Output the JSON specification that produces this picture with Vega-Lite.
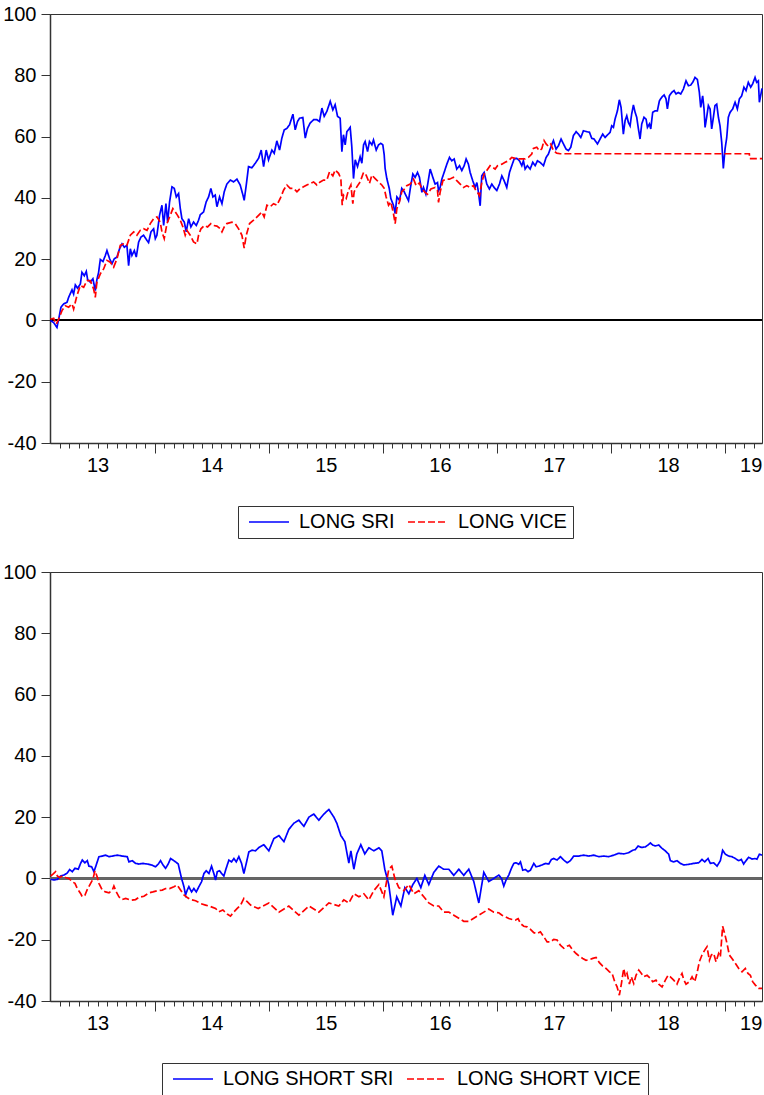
{
  "$schema": "https://vega.github.io/schema/vega-lite/v6.json",
  "padding": {"left": 2, "top": 3, "right": 0, "bottom": 0},
  "spacing": 22,
  "config": {
    "font": "Liberation Sans",
    "view": {"stroke": "#333", "strokeWidth": 1},
    "axis": {"grid": false, "title": null, "domainColor": "#333", "domainWidth": 1.5, "tickColor": "#333", "tickWidth": 1, "labelColor": "#000", "labelFontSize": 20, "labelFont": "Liberation Sans"},
    "legend": {"title": null, "orient": "none", "direction": "horizontal", "columns": 2, "symbolType": "M-4,0H4", "symbolSize": 100, "symbolOffset": 15, "symbolStrokeWidth": 1.5, "labelFontSize": 20, "labelFont": "Liberation Sans", "labelColor": "#000", "strokeColor": "#333", "padding": 6, "columnPadding": 8, "labelOffset": 20, "labelLimit": 400}
  },
  "datasets": {
    "top": [
      {"t":2013.086,"v":0.0,"s":"LONG SRI"},{"t":2013.115,"v":-0.7,"s":"LONG SRI"},{"t":2013.144,"v":-2.3,"s":"LONG SRI"},{"t":2013.159,"v":0.4,"s":"LONG SRI"},{"t":2013.179,"v":4.3,"s":"LONG SRI"},{"t":2013.203,"v":5.4,"s":"LONG SRI"},{"t":2013.232,"v":5.9,"s":"LONG SRI"},{"t":2013.246,"v":7.5,"s":"LONG SRI"},{"t":2013.276,"v":10.0,"s":"LONG SRI"},{"t":2013.290,"v":8.6,"s":"LONG SRI"},{"t":2013.305,"v":11.6,"s":"LONG SRI"},{"t":2013.325,"v":10.5,"s":"LONG SRI"},{"t":2013.349,"v":11.9,"s":"LONG SRI"},{"t":2013.363,"v":15.7,"s":"LONG SRI"},{"t":2013.384,"v":14.6,"s":"LONG SRI"},{"t":2013.401,"v":16.0,"s":"LONG SRI"},{"t":2013.413,"v":13.3,"s":"LONG SRI"},{"t":2013.436,"v":12.5,"s":"LONG SRI"},{"t":2013.459,"v":13.6,"s":"LONG SRI"},{"t":2013.480,"v":9.7,"s":"LONG SRI"},{"t":2013.494,"v":13.3,"s":"LONG SRI"},{"t":2013.509,"v":15.7,"s":"LONG SRI"},{"t":2013.524,"v":19.9,"s":"LONG SRI"},{"t":2013.547,"v":19.2,"s":"LONG SRI"},{"t":2013.568,"v":21.2,"s":"LONG SRI"},{"t":2013.582,"v":22.8,"s":"LONG SRI"},{"t":2013.606,"v":20.1,"s":"LONG SRI"},{"t":2013.626,"v":18.5,"s":"LONG SRI"},{"t":2013.646,"v":20.1,"s":"LONG SRI"},{"t":2013.670,"v":20.7,"s":"LONG SRI"},{"t":2013.693,"v":23.4,"s":"LONG SRI"},{"t":2013.714,"v":25.0,"s":"LONG SRI"},{"t":2013.734,"v":23.9,"s":"LONG SRI"},{"t":2013.757,"v":24.5,"s":"LONG SRI"},{"t":2013.772,"v":17.9,"s":"LONG SRI"},{"t":2013.787,"v":23.4,"s":"LONG SRI"},{"t":2013.801,"v":21.2,"s":"LONG SRI"},{"t":2013.822,"v":22.8,"s":"LONG SRI"},{"t":2013.839,"v":20.7,"s":"LONG SRI"},{"t":2013.860,"v":25.6,"s":"LONG SRI"},{"t":2013.880,"v":27.2,"s":"LONG SRI"},{"t":2013.903,"v":27.8,"s":"LONG SRI"},{"t":2013.933,"v":26.1,"s":"LONG SRI"},{"t":2013.947,"v":25.4,"s":"LONG SRI"},{"t":2013.968,"v":28.9,"s":"LONG SRI"},{"t":2013.991,"v":29.9,"s":"LONG SRI"},{"t":2014.006,"v":26.7,"s":"LONG SRI"},{"t":2014.020,"v":27.8,"s":"LONG SRI"},{"t":2014.043,"v":34.3,"s":"LONG SRI"},{"t":2014.064,"v":37.6,"s":"LONG SRI"},{"t":2014.079,"v":31.0,"s":"LONG SRI"},{"t":2014.099,"v":38.1,"s":"LONG SRI"},{"t":2014.114,"v":32.1,"s":"LONG SRI"},{"t":2014.131,"v":38.7,"s":"LONG SRI"},{"t":2014.152,"v":43.6,"s":"LONG SRI"},{"t":2014.172,"v":43.1,"s":"LONG SRI"},{"t":2014.190,"v":40.3,"s":"LONG SRI"},{"t":2014.210,"v":41.4,"s":"LONG SRI"},{"t":2014.225,"v":36.5,"s":"LONG SRI"},{"t":2014.239,"v":33.2,"s":"LONG SRI"},{"t":2014.260,"v":32.1,"s":"LONG SRI"},{"t":2014.277,"v":28.9,"s":"LONG SRI"},{"t":2014.298,"v":33.2,"s":"LONG SRI"},{"t":2014.318,"v":30.5,"s":"LONG SRI"},{"t":2014.341,"v":32.1,"s":"LONG SRI"},{"t":2014.365,"v":31.0,"s":"LONG SRI"},{"t":2014.385,"v":32.7,"s":"LONG SRI"},{"t":2014.400,"v":34.5,"s":"LONG SRI"},{"t":2014.429,"v":35.4,"s":"LONG SRI"},{"t":2014.452,"v":38.7,"s":"LONG SRI"},{"t":2014.473,"v":40.3,"s":"LONG SRI"},{"t":2014.493,"v":43.1,"s":"LONG SRI"},{"t":2014.511,"v":40.3,"s":"LONG SRI"},{"t":2014.531,"v":40.9,"s":"LONG SRI"},{"t":2014.546,"v":37.1,"s":"LONG SRI"},{"t":2014.569,"v":40.3,"s":"LONG SRI"},{"t":2014.590,"v":38.1,"s":"LONG SRI"},{"t":2014.610,"v":42.0,"s":"LONG SRI"},
      {"t":2014.633,"v":44.5,"s":"LONG SRI"},{"t":2014.663,"v":45.8,"s":"LONG SRI"},{"t":2014.692,"v":45.2,"s":"LONG SRI"},{"t":2014.721,"v":46.1,"s":"LONG SRI"},{"t":2014.750,"v":44.2,"s":"LONG SRI"},{"t":2014.774,"v":40.9,"s":"LONG SRI"},{"t":2014.785,"v":39.2,"s":"LONG SRI"},{"t":2014.803,"v":44.2,"s":"LONG SRI"},{"t":2014.823,"v":50.2,"s":"LONG SRI"},{"t":2014.852,"v":49.8,"s":"LONG SRI"},{"t":2014.882,"v":51.3,"s":"LONG SRI"},{"t":2014.911,"v":52.9,"s":"LONG SRI"},{"t":2014.934,"v":55.6,"s":"LONG SRI"},{"t":2014.955,"v":50.2,"s":"LONG SRI"},{"t":2014.978,"v":55.6,"s":"LONG SRI"},{"t":2014.998,"v":52.4,"s":"LONG SRI"},{"t":2015.028,"v":55.6,"s":"LONG SRI"},{"t":2015.048,"v":54.5,"s":"LONG SRI"},{"t":2015.071,"v":58.6,"s":"LONG SRI"},{"t":2015.095,"v":55.6,"s":"LONG SRI"},{"t":2015.115,"v":59.5,"s":"LONG SRI"},{"t":2015.136,"v":62.2,"s":"LONG SRI"},{"t":2015.159,"v":62.7,"s":"LONG SRI"},{"t":2015.182,"v":63.8,"s":"LONG SRI"},{"t":2015.212,"v":67.3,"s":"LONG SRI"},{"t":2015.232,"v":62.2,"s":"LONG SRI"},{"t":2015.252,"v":64.9,"s":"LONG SRI"},{"t":2015.270,"v":66.0,"s":"LONG SRI"},{"t":2015.299,"v":66.2,"s":"LONG SRI"},{"t":2015.320,"v":59.5,"s":"LONG SRI"},{"t":2015.340,"v":62.7,"s":"LONG SRI"},{"t":2015.363,"v":64.4,"s":"LONG SRI"},{"t":2015.393,"v":65.5,"s":"LONG SRI"},{"t":2015.422,"v":65.5,"s":"LONG SRI"},{"t":2015.445,"v":64.9,"s":"LONG SRI"},{"t":2015.466,"v":69.3,"s":"LONG SRI"},{"t":2015.486,"v":66.6,"s":"LONG SRI"},{"t":2015.509,"v":68.2,"s":"LONG SRI"},{"t":2015.539,"v":71.5,"s":"LONG SRI"},{"t":2015.562,"v":68.7,"s":"LONG SRI"},{"t":2015.582,"v":70.4,"s":"LONG SRI"},{"t":2015.603,"v":66.6,"s":"LONG SRI"},{"t":2015.626,"v":66.0,"s":"LONG SRI"},{"t":2015.641,"v":55.1,"s":"LONG SRI"},{"t":2015.655,"v":60.6,"s":"LONG SRI"},{"t":2015.670,"v":57.3,"s":"LONG SRI"},{"t":2015.685,"v":61.6,"s":"LONG SRI"},{"t":2015.714,"v":63.0,"s":"LONG SRI"},{"t":2015.728,"v":56.7,"s":"LONG SRI"},{"t":2015.743,"v":46.3,"s":"LONG SRI"},{"t":2015.758,"v":52.4,"s":"LONG SRI"},{"t":2015.778,"v":50.2,"s":"LONG SRI"},{"t":2015.801,"v":53.4,"s":"LONG SRI"},{"t":2015.816,"v":51.3,"s":"LONG SRI"},{"t":2015.831,"v":57.3,"s":"LONG SRI"},{"t":2015.845,"v":58.4,"s":"LONG SRI"},{"t":2015.866,"v":55.1,"s":"LONG SRI"},{"t":2015.883,"v":58.4,"s":"LONG SRI"},{"t":2015.904,"v":57.3,"s":"LONG SRI"},{"t":2015.918,"v":58.9,"s":"LONG SRI"},{"t":2015.942,"v":55.6,"s":"LONG SRI"},{"t":2015.962,"v":57.3,"s":"LONG SRI"},{"t":2015.982,"v":57.8,"s":"LONG SRI"},{"t":2016.000,"v":57.3,"s":"LONG SRI"},{"t":2016.012,"v":54.0,"s":"LONG SRI"},{"t":2016.020,"v":49.6,"s":"LONG SRI"},{"t":2016.035,"v":46.3,"s":"LONG SRI"},{"t":2016.056,"v":43.1,"s":"LONG SRI"},{"t":2016.070,"v":39.8,"s":"LONG SRI"},{"t":2016.093,"v":37.6,"s":"LONG SRI"},{"t":2016.108,"v":34.9,"s":"LONG SRI"},{"t":2016.123,"v":40.3,"s":"LONG SRI"},{"t":2016.146,"v":39.2,"s":"LONG SRI"},{"t":2016.166,"v":43.1,"s":"LONG SRI"},{"t":2016.187,"v":42.0,"s":"LONG SRI"},
      {"t":2016.210,"v":40.2,"s":"LONG SRI"},{"t":2016.225,"v":39.1,"s":"LONG SRI"},{"t":2016.240,"v":42.9,"s":"LONG SRI"},{"t":2016.263,"v":47.8,"s":"LONG SRI"},{"t":2016.283,"v":46.7,"s":"LONG SRI"},{"t":2016.304,"v":48.3,"s":"LONG SRI"},{"t":2016.321,"v":46.7,"s":"LONG SRI"},{"t":2016.342,"v":41.8,"s":"LONG SRI"},{"t":2016.356,"v":43.4,"s":"LONG SRI"},{"t":2016.377,"v":41.2,"s":"LONG SRI"},{"t":2016.391,"v":44.0,"s":"LONG SRI"},{"t":2016.415,"v":49.4,"s":"LONG SRI"},{"t":2016.438,"v":46.7,"s":"LONG SRI"},{"t":2016.458,"v":44.5,"s":"LONG SRI"},{"t":2016.479,"v":45.0,"s":"LONG SRI"},{"t":2016.488,"v":42.4,"s":"LONG SRI"},{"t":2016.502,"v":43.4,"s":"LONG SRI"},{"t":2016.517,"v":46.1,"s":"LONG SRI"},{"t":2016.537,"v":48.3,"s":"LONG SRI"},{"t":2016.561,"v":51.0,"s":"LONG SRI"},{"t":2016.584,"v":53.2,"s":"LONG SRI"},{"t":2016.604,"v":52.1,"s":"LONG SRI"},{"t":2016.625,"v":52.7,"s":"LONG SRI"},{"t":2016.648,"v":49.4,"s":"LONG SRI"},{"t":2016.672,"v":50.5,"s":"LONG SRI"},{"t":2016.692,"v":48.9,"s":"LONG SRI"},{"t":2016.713,"v":50.5,"s":"LONG SRI"},{"t":2016.730,"v":52.7,"s":"LONG SRI"},{"t":2016.750,"v":51.0,"s":"LONG SRI"},{"t":2016.765,"v":48.3,"s":"LONG SRI"},{"t":2016.788,"v":45.6,"s":"LONG SRI"},{"t":2016.809,"v":43.4,"s":"LONG SRI"},{"t":2016.824,"v":45.0,"s":"LONG SRI"},{"t":2016.838,"v":41.8,"s":"LONG SRI"},{"t":2016.853,"v":37.4,"s":"LONG SRI"},{"t":2016.867,"v":47.2,"s":"LONG SRI"},{"t":2016.888,"v":48.3,"s":"LONG SRI"},{"t":2016.911,"v":44.5,"s":"LONG SRI"},{"t":2016.934,"v":42.9,"s":"LONG SRI"},{"t":2016.955,"v":44.5,"s":"LONG SRI"},{"t":2016.975,"v":43.4,"s":"LONG SRI"},{"t":2016.999,"v":42.4,"s":"LONG SRI"},{"t":2017.022,"v":44.5,"s":"LONG SRI"},{"t":2017.043,"v":47.2,"s":"LONG SRI"},{"t":2017.063,"v":45.6,"s":"LONG SRI"},{"t":2017.086,"v":43.4,"s":"LONG SRI"},{"t":2017.110,"v":48.3,"s":"LONG SRI"},{"t":2017.130,"v":50.5,"s":"LONG SRI"},{"t":2017.151,"v":52.7,"s":"LONG SRI"},{"t":2017.174,"v":52.9,"s":"LONG SRI"},{"t":2017.197,"v":52.1,"s":"LONG SRI"},{"t":2017.218,"v":50.5,"s":"LONG SRI"},{"t":2017.232,"v":52.1,"s":"LONG SRI"},{"t":2017.247,"v":49.4,"s":"LONG SRI"},{"t":2017.267,"v":50.5,"s":"LONG SRI"},{"t":2017.291,"v":49.4,"s":"LONG SRI"},{"t":2017.314,"v":51.6,"s":"LONG SRI"},{"t":2017.335,"v":50.5,"s":"LONG SRI"},{"t":2017.355,"v":52.1,"s":"LONG SRI"},{"t":2017.378,"v":51.6,"s":"LONG SRI"},{"t":2017.408,"v":50.5,"s":"LONG SRI"},{"t":2017.431,"v":53.2,"s":"LONG SRI"},{"t":2017.451,"v":54.3,"s":"LONG SRI"},{"t":2017.472,"v":56.5,"s":"LONG SRI"},{"t":2017.495,"v":58.7,"s":"LONG SRI"},{"t":2017.518,"v":55.9,"s":"LONG SRI"},{"t":2017.539,"v":57.0,"s":"LONG SRI"},{"t":2017.562,"v":59.2,"s":"LONG SRI"},{"t":2017.583,"v":57.6,"s":"LONG SRI"},{"t":2017.606,"v":55.9,"s":"LONG SRI"},{"t":2017.626,"v":55.4,"s":"LONG SRI"},{"t":2017.647,"v":56.5,"s":"LONG SRI"},{"t":2017.670,"v":60.3,"s":"LONG SRI"},{"t":2017.694,"v":61.6,"s":"LONG SRI"},{"t":2017.714,"v":60.8,"s":"LONG SRI"},{"t":2017.735,"v":59.7,"s":"LONG SRI"},{"t":2017.758,"v":61.9,"s":"LONG SRI"},
      {"t":2017.787,"v":61.6,"s":"LONG SRI"},{"t":2017.811,"v":61.4,"s":"LONG SRI"},{"t":2017.831,"v":59.4,"s":"LONG SRI"},{"t":2017.851,"v":59.2,"s":"LONG SRI"},{"t":2017.881,"v":57.6,"s":"LONG SRI"},{"t":2017.904,"v":59.2,"s":"LONG SRI"},{"t":2017.927,"v":60.8,"s":"LONG SRI"},{"t":2017.948,"v":59.7,"s":"LONG SRI"},{"t":2017.968,"v":60.5,"s":"LONG SRI"},{"t":2017.992,"v":61.4,"s":"LONG SRI"},{"t":2018.006,"v":63.5,"s":"LONG SRI"},{"t":2018.021,"v":63.0,"s":"LONG SRI"},{"t":2018.035,"v":65.7,"s":"LONG SRI"},{"t":2018.056,"v":68.4,"s":"LONG SRI"},{"t":2018.073,"v":72.0,"s":"LONG SRI"},{"t":2018.088,"v":69.5,"s":"LONG SRI"},{"t":2018.108,"v":60.8,"s":"LONG SRI"},{"t":2018.123,"v":65.2,"s":"LONG SRI"},{"t":2018.138,"v":66.8,"s":"LONG SRI"},{"t":2018.152,"v":64.6,"s":"LONG SRI"},{"t":2018.167,"v":63.5,"s":"LONG SRI"},{"t":2018.181,"v":67.4,"s":"LONG SRI"},{"t":2018.196,"v":70.3,"s":"LONG SRI"},{"t":2018.211,"v":67.9,"s":"LONG SRI"},{"t":2018.225,"v":66.3,"s":"LONG SRI"},{"t":2018.240,"v":62.5,"s":"LONG SRI"},{"t":2018.254,"v":59.2,"s":"LONG SRI"},{"t":2018.269,"v":64.1,"s":"LONG SRI"},{"t":2018.289,"v":66.3,"s":"LONG SRI"},{"t":2018.307,"v":65.7,"s":"LONG SRI"},{"t":2018.319,"v":63.0,"s":"LONG SRI"},{"t":2018.336,"v":64.1,"s":"LONG SRI"},{"t":2018.348,"v":62.5,"s":"LONG SRI"},{"t":2018.365,"v":67.9,"s":"LONG SRI"},{"t":2018.386,"v":68.4,"s":"LONG SRI"},{"t":2018.406,"v":68.4,"s":"LONG SRI"},{"t":2018.424,"v":71.7,"s":"LONG SRI"},{"t":2018.444,"v":72.8,"s":"LONG SRI"},{"t":2018.465,"v":73.6,"s":"LONG SRI"},{"t":2018.482,"v":72.3,"s":"LONG SRI"},{"t":2018.494,"v":69.0,"s":"LONG SRI"},{"t":2018.511,"v":73.3,"s":"LONG SRI"},{"t":2018.532,"v":74.4,"s":"LONG SRI"},{"t":2018.552,"v":75.0,"s":"LONG SRI"},{"t":2018.570,"v":73.9,"s":"LONG SRI"},{"t":2018.590,"v":74.4,"s":"LONG SRI"},{"t":2018.611,"v":73.9,"s":"LONG SRI"},{"t":2018.634,"v":75.5,"s":"LONG SRI"},{"t":2018.657,"v":78.2,"s":"LONG SRI"},{"t":2018.678,"v":76.6,"s":"LONG SRI"},{"t":2018.698,"v":76.8,"s":"LONG SRI"},{"t":2018.716,"v":77.7,"s":"LONG SRI"},{"t":2018.736,"v":79.3,"s":"LONG SRI"},{"t":2018.757,"v":78.6,"s":"LONG SRI"},{"t":2018.774,"v":74.4,"s":"LONG SRI"},{"t":2018.786,"v":69.5,"s":"LONG SRI"},{"t":2018.803,"v":73.3,"s":"LONG SRI"},{"t":2018.815,"v":69.0,"s":"LONG SRI"},{"t":2018.824,"v":63.0,"s":"LONG SRI"},{"t":2018.838,"v":66.3,"s":"LONG SRI"},{"t":2018.853,"v":70.1,"s":"LONG SRI"},{"t":2018.868,"v":69.0,"s":"LONG SRI"},{"t":2018.882,"v":62.5,"s":"LONG SRI"},{"t":2018.897,"v":66.3,"s":"LONG SRI"},{"t":2018.911,"v":70.1,"s":"LONG SRI"},{"t":2018.926,"v":70.6,"s":"LONG SRI"},{"t":2018.941,"v":66.3,"s":"LONG SRI"},{"t":2018.955,"v":63.5,"s":"LONG SRI"},{"t":2018.970,"v":58.1,"s":"LONG SRI"},{"t":2018.984,"v":49.6,"s":"LONG SRI"},{"t":2018.999,"v":55.9,"s":"LONG SRI"},{"t":2019.014,"v":59.7,"s":"LONG SRI"},{"t":2019.028,"v":66.3,"s":"LONG SRI"},{"t":2019.043,"v":67.9,"s":"LONG SRI"},{"t":2019.066,"v":69.0,"s":"LONG SRI"},{"t":2019.087,"v":71.2,"s":"LONG SRI"},{"t":2019.107,"v":69.0,"s":"LONG SRI"},{"t":2019.125,"v":72.3,"s":"LONG SRI"},{"t":2019.145,"v":73.3,"s":"LONG SRI"},{"t":2019.165,"v":76.1,"s":"LONG SRI"},{"t":2019.183,"v":75.0,"s":"LONG SRI"},{"t":2019.203,"v":77.7,"s":"LONG SRI"},{"t":2019.224,"v":76.1,"s":"LONG SRI"},{"t":2019.241,"v":77.2,"s":"LONG SRI"},{"t":2019.262,"v":79.3,"s":"LONG SRI"},{"t":2019.276,"v":77.7,"s":"LONG SRI"},{"t":2019.291,"v":78.2,"s":"LONG SRI"},{"t":2019.300,"v":71.2,"s":"LONG SRI"},{"t":2019.311,"v":73.3,"s":"LONG SRI"},{"t":2019.323,"v":75.7,"s":"LONG SRI"},
      {"t":2013.086,"v":0.4,"s":"LONG VICE"},{"t":2013.115,"v":0.7,"s":"LONG VICE"},{"t":2013.138,"v":-1.2,"s":"LONG VICE"},{"t":2013.159,"v":0.4,"s":"LONG VICE"},{"t":2013.188,"v":3.2,"s":"LONG VICE"},{"t":2013.217,"v":4.8,"s":"LONG VICE"},{"t":2013.246,"v":4.3,"s":"LONG VICE"},{"t":2013.276,"v":5.4,"s":"LONG VICE"},{"t":2013.290,"v":3.7,"s":"LONG VICE"},{"t":2013.319,"v":8.1,"s":"LONG VICE"},{"t":2013.349,"v":11.4,"s":"LONG VICE"},{"t":2013.378,"v":10.8,"s":"LONG VICE"},{"t":2013.407,"v":13.0,"s":"LONG VICE"},{"t":2013.436,"v":13.0,"s":"LONG VICE"},{"t":2013.465,"v":10.3,"s":"LONG VICE"},{"t":2013.480,"v":7.5,"s":"LONG VICE"},{"t":2013.494,"v":12.5,"s":"LONG VICE"},{"t":2013.524,"v":15.2,"s":"LONG VICE"},{"t":2013.553,"v":16.8,"s":"LONG VICE"},{"t":2013.582,"v":19.6,"s":"LONG VICE"},{"t":2013.611,"v":19.0,"s":"LONG VICE"},{"t":2013.641,"v":17.4,"s":"LONG VICE"},{"t":2013.670,"v":20.1,"s":"LONG VICE"},{"t":2013.699,"v":24.5,"s":"LONG VICE"},{"t":2013.728,"v":25.0,"s":"LONG VICE"},{"t":2013.757,"v":24.5,"s":"LONG VICE"},{"t":2013.787,"v":27.8,"s":"LONG VICE"},{"t":2013.816,"v":28.9,"s":"LONG VICE"},{"t":2013.845,"v":27.8,"s":"LONG VICE"},{"t":2013.874,"v":29.4,"s":"LONG VICE"},{"t":2013.903,"v":29.9,"s":"LONG VICE"},{"t":2013.933,"v":29.4,"s":"LONG VICE"},{"t":2013.962,"v":31.6,"s":"LONG VICE"},{"t":2013.991,"v":33.2,"s":"LONG VICE"},{"t":2014.020,"v":33.8,"s":"LONG VICE"},{"t":2014.049,"v":32.1,"s":"LONG VICE"},{"t":2014.064,"v":28.9,"s":"LONG VICE"},{"t":2014.084,"v":26.7,"s":"LONG VICE"},{"t":2014.108,"v":31.6,"s":"LONG VICE"},{"t":2014.137,"v":34.3,"s":"LONG VICE"},{"t":2014.160,"v":36.5,"s":"LONG VICE"},{"t":2014.181,"v":35.4,"s":"LONG VICE"},{"t":2014.201,"v":34.3,"s":"LONG VICE"},{"t":2014.225,"v":32.7,"s":"LONG VICE"},{"t":2014.248,"v":30.5,"s":"LONG VICE"},{"t":2014.268,"v":27.8,"s":"LONG VICE"},{"t":2014.283,"v":29.4,"s":"LONG VICE"},{"t":2014.312,"v":27.8,"s":"LONG VICE"},{"t":2014.341,"v":25.6,"s":"LONG VICE"},{"t":2014.371,"v":25.0,"s":"LONG VICE"},{"t":2014.385,"v":27.8,"s":"LONG VICE"},{"t":2014.406,"v":29.9,"s":"LONG VICE"},{"t":2014.435,"v":31.0,"s":"LONG VICE"},{"t":2014.464,"v":30.5,"s":"LONG VICE"},{"t":2014.493,"v":31.6,"s":"LONG VICE"},{"t":2014.517,"v":31.0,"s":"LONG VICE"},{"t":2014.546,"v":30.8,"s":"LONG VICE"},{"t":2014.575,"v":29.9,"s":"LONG VICE"},{"t":2014.590,"v":28.9,"s":"LONG VICE"},{"t":2014.610,"v":30.5,"s":"LONG VICE"},
      {"t":2014.633,"v":31.6,"s":"LONG VICE"},{"t":2014.677,"v":32.1,"s":"LONG VICE"},{"t":2014.706,"v":31.6,"s":"LONG VICE"},{"t":2014.736,"v":29.9,"s":"LONG VICE"},{"t":2014.765,"v":27.8,"s":"LONG VICE"},{"t":2014.785,"v":23.6,"s":"LONG VICE"},{"t":2014.803,"v":27.8,"s":"LONG VICE"},{"t":2014.832,"v":31.6,"s":"LONG VICE"},{"t":2014.867,"v":32.7,"s":"LONG VICE"},{"t":2014.911,"v":34.3,"s":"LONG VICE"},{"t":2014.940,"v":35.4,"s":"LONG VICE"},{"t":2014.960,"v":33.8,"s":"LONG VICE"},{"t":2014.984,"v":37.6,"s":"LONG VICE"},{"t":2015.013,"v":37.1,"s":"LONG VICE"},{"t":2015.042,"v":38.1,"s":"LONG VICE"},{"t":2015.071,"v":37.6,"s":"LONG VICE"},{"t":2015.101,"v":39.8,"s":"LONG VICE"},{"t":2015.130,"v":42.5,"s":"LONG VICE"},{"t":2015.159,"v":44.2,"s":"LONG VICE"},{"t":2015.188,"v":43.1,"s":"LONG VICE"},{"t":2015.217,"v":43.1,"s":"LONG VICE"},{"t":2015.247,"v":42.0,"s":"LONG VICE"},{"t":2015.276,"v":43.1,"s":"LONG VICE"},{"t":2015.305,"v":43.6,"s":"LONG VICE"},{"t":2015.334,"v":44.2,"s":"LONG VICE"},{"t":2015.363,"v":44.7,"s":"LONG VICE"},{"t":2015.393,"v":45.2,"s":"LONG VICE"},{"t":2015.422,"v":44.2,"s":"LONG VICE"},{"t":2015.451,"v":45.2,"s":"LONG VICE"},{"t":2015.480,"v":45.8,"s":"LONG VICE"},{"t":2015.509,"v":45.8,"s":"LONG VICE"},{"t":2015.533,"v":48.5,"s":"LONG VICE"},{"t":2015.562,"v":47.2,"s":"LONG VICE"},{"t":2015.582,"v":49.1,"s":"LONG VICE"},{"t":2015.612,"v":48.0,"s":"LONG VICE"},{"t":2015.632,"v":46.3,"s":"LONG VICE"},{"t":2015.644,"v":37.6,"s":"LONG VICE"},{"t":2015.655,"v":40.9,"s":"LONG VICE"},{"t":2015.679,"v":39.8,"s":"LONG VICE"},{"t":2015.699,"v":42.5,"s":"LONG VICE"},{"t":2015.720,"v":44.2,"s":"LONG VICE"},{"t":2015.737,"v":38.1,"s":"LONG VICE"},{"t":2015.749,"v":42.0,"s":"LONG VICE"},{"t":2015.772,"v":43.6,"s":"LONG VICE"},{"t":2015.801,"v":45.2,"s":"LONG VICE"},{"t":2015.831,"v":48.3,"s":"LONG VICE"},{"t":2015.854,"v":47.4,"s":"LONG VICE"},{"t":2015.883,"v":44.7,"s":"LONG VICE"},{"t":2015.904,"v":47.4,"s":"LONG VICE"},{"t":2015.933,"v":46.3,"s":"LONG VICE"},{"t":2015.962,"v":45.2,"s":"LONG VICE"},{"t":2015.991,"v":44.2,"s":"LONG VICE"},{"t":2016.012,"v":43.1,"s":"LONG VICE"},{"t":2016.029,"v":40.3,"s":"LONG VICE"},{"t":2016.050,"v":37.6,"s":"LONG VICE"},{"t":2016.070,"v":38.7,"s":"LONG VICE"},{"t":2016.093,"v":34.9,"s":"LONG VICE"},{"t":2016.108,"v":31.6,"s":"LONG VICE"},{"t":2016.123,"v":36.5,"s":"LONG VICE"},{"t":2016.146,"v":38.7,"s":"LONG VICE"},{"t":2016.166,"v":42.0,"s":"LONG VICE"},{"t":2016.196,"v":43.1,"s":"LONG VICE"},
      {"t":2016.210,"v":44.0,"s":"LONG VICE"},{"t":2016.240,"v":44.5,"s":"LONG VICE"},{"t":2016.269,"v":46.1,"s":"LONG VICE"},{"t":2016.292,"v":44.0,"s":"LONG VICE"},{"t":2016.321,"v":44.9,"s":"LONG VICE"},{"t":2016.342,"v":42.9,"s":"LONG VICE"},{"t":2016.371,"v":41.8,"s":"LONG VICE"},{"t":2016.391,"v":41.2,"s":"LONG VICE"},{"t":2016.421,"v":42.9,"s":"LONG VICE"},{"t":2016.458,"v":43.4,"s":"LONG VICE"},{"t":2016.479,"v":42.4,"s":"LONG VICE"},{"t":2016.488,"v":38.5,"s":"LONG VICE"},{"t":2016.502,"v":41.8,"s":"LONG VICE"},{"t":2016.526,"v":45.6,"s":"LONG VICE"},{"t":2016.555,"v":46.1,"s":"LONG VICE"},{"t":2016.584,"v":46.1,"s":"LONG VICE"},{"t":2016.619,"v":46.7,"s":"LONG VICE"},{"t":2016.648,"v":45.6,"s":"LONG VICE"},{"t":2016.678,"v":44.5,"s":"LONG VICE"},{"t":2016.707,"v":43.4,"s":"LONG VICE"},{"t":2016.736,"v":44.0,"s":"LONG VICE"},{"t":2016.765,"v":43.4,"s":"LONG VICE"},{"t":2016.794,"v":44.0,"s":"LONG VICE"},{"t":2016.815,"v":42.4,"s":"LONG VICE"},{"t":2016.829,"v":41.8,"s":"LONG VICE"},{"t":2016.847,"v":40.7,"s":"LONG VICE"},{"t":2016.867,"v":45.0,"s":"LONG VICE"},{"t":2016.888,"v":47.8,"s":"LONG VICE"},{"t":2016.911,"v":48.9,"s":"LONG VICE"},{"t":2016.940,"v":50.5,"s":"LONG VICE"},{"t":2016.964,"v":49.9,"s":"LONG VICE"},{"t":2016.984,"v":49.4,"s":"LONG VICE"},{"t":2017.005,"v":50.5,"s":"LONG VICE"},{"t":2017.043,"v":51.0,"s":"LONG VICE"},{"t":2017.072,"v":51.6,"s":"LONG VICE"},{"t":2017.101,"v":52.1,"s":"LONG VICE"},{"t":2017.130,"v":53.2,"s":"LONG VICE"},{"t":2017.159,"v":52.9,"s":"LONG VICE"},{"t":2017.189,"v":52.7,"s":"LONG VICE"},{"t":2017.218,"v":52.7,"s":"LONG VICE"},{"t":2017.247,"v":52.7,"s":"LONG VICE"},{"t":2017.276,"v":53.2,"s":"LONG VICE"},{"t":2017.305,"v":54.3,"s":"LONG VICE"},{"t":2017.320,"v":56.1,"s":"LONG VICE"},{"t":2017.349,"v":56.5,"s":"LONG VICE"},{"t":2017.372,"v":55.4,"s":"LONG VICE"},{"t":2017.393,"v":56.0,"s":"LONG VICE"},{"t":2017.413,"v":58.7,"s":"LONG VICE"},{"t":2017.431,"v":57.6,"s":"LONG VICE"},{"t":2017.451,"v":56.8,"s":"LONG VICE"},{"t":2017.472,"v":57.6,"s":"LONG VICE"},{"t":2017.495,"v":55.4,"s":"LONG VICE"},{"t":2017.524,"v":54.6,"s":"LONG VICE"},{"t":2017.554,"v":54.4,"s":"LONG VICE"},{"t":2019.212,"v":54.4,"s":"LONG VICE"},{"t":2019.215,"v":52.8,"s":"LONG VICE"},{"t":2019.323,"v":52.8,"s":"LONG VICE"}
    ],
    "bottom": [
      {"t":2013.089,"v":-0.3,"s":"LONG SHORT SRI"},{"t":2013.118,"v":-0.5,"s":"LONG SHORT SRI"},{"t":2013.147,"v":-0.3,"s":"LONG SHORT SRI"},{"t":2013.176,"v":0.8,"s":"LONG SHORT SRI"},{"t":2013.205,"v":1.1,"s":"LONG SHORT SRI"},{"t":2013.235,"v":1.8,"s":"LONG SHORT SRI"},{"t":2013.255,"v":2.9,"s":"LONG SHORT SRI"},{"t":2013.278,"v":2.2,"s":"LONG SHORT SRI"},{"t":2013.302,"v":3.3,"s":"LONG SHORT SRI"},{"t":2013.331,"v":3.0,"s":"LONG SHORT SRI"},{"t":2013.351,"v":4.9,"s":"LONG SHORT SRI"},{"t":2013.366,"v":6.0,"s":"LONG SHORT SRI"},{"t":2013.389,"v":5.1,"s":"LONG SHORT SRI"},{"t":2013.410,"v":5.8,"s":"LONG SHORT SRI"},{"t":2013.424,"v":4.0,"s":"LONG SHORT SRI"},{"t":2013.448,"v":3.8,"s":"LONG SHORT SRI"},{"t":2013.468,"v":2.2,"s":"LONG SHORT SRI"},{"t":2013.483,"v":3.8,"s":"LONG SHORT SRI"},{"t":2013.497,"v":5.4,"s":"LONG SHORT SRI"},{"t":2013.512,"v":7.1,"s":"LONG SHORT SRI"},{"t":2013.541,"v":7.3,"s":"LONG SHORT SRI"},{"t":2013.570,"v":7.6,"s":"LONG SHORT SRI"},{"t":2013.600,"v":7.1,"s":"LONG SHORT SRI"},{"t":2013.629,"v":7.3,"s":"LONG SHORT SRI"},{"t":2013.673,"v":7.6,"s":"LONG SHORT SRI"},{"t":2013.716,"v":7.3,"s":"LONG SHORT SRI"},{"t":2013.760,"v":7.1,"s":"LONG SHORT SRI"},{"t":2013.775,"v":5.4,"s":"LONG SHORT SRI"},{"t":2013.804,"v":5.8,"s":"LONG SHORT SRI"},{"t":2013.833,"v":4.9,"s":"LONG SHORT SRI"},{"t":2013.862,"v":4.7,"s":"LONG SHORT SRI"},{"t":2013.897,"v":4.9,"s":"LONG SHORT SRI"},{"t":2013.935,"v":4.7,"s":"LONG SHORT SRI"},{"t":2013.973,"v":4.4,"s":"LONG SHORT SRI"},{"t":2014.008,"v":3.8,"s":"LONG SHORT SRI"},{"t":2014.032,"v":4.7,"s":"LONG SHORT SRI"},{"t":2014.052,"v":5.8,"s":"LONG SHORT SRI"},{"t":2014.073,"v":4.4,"s":"LONG SHORT SRI"},{"t":2014.096,"v":3.3,"s":"LONG SHORT SRI"},{"t":2014.119,"v":4.7,"s":"LONG SHORT SRI"},{"t":2014.140,"v":6.5,"s":"LONG SHORT SRI"},{"t":2014.160,"v":6.0,"s":"LONG SHORT SRI"},{"t":2014.184,"v":5.4,"s":"LONG SHORT SRI"},{"t":2014.207,"v":4.7,"s":"LONG SHORT SRI"},{"t":2014.219,"v":2.7,"s":"LONG SHORT SRI"},{"t":2014.236,"v":0.0,"s":"LONG SHORT SRI"},{"t":2014.257,"v":-2.7,"s":"LONG SHORT SRI"},{"t":2014.271,"v":-5.4,"s":"LONG SHORT SRI"},{"t":2014.286,"v":-3.8,"s":"LONG SHORT SRI"},{"t":2014.300,"v":-2.7,"s":"LONG SHORT SRI"},{"t":2014.324,"v":-4.4,"s":"LONG SHORT SRI"},{"t":2014.344,"v":-3.3,"s":"LONG SHORT SRI"},{"t":2014.365,"v":-4.4,"s":"LONG SHORT SRI"},{"t":2014.388,"v":-2.7,"s":"LONG SHORT SRI"},{"t":2014.411,"v":-1.1,"s":"LONG SHORT SRI"},{"t":2014.432,"v":1.6,"s":"LONG SHORT SRI"},{"t":2014.452,"v":2.5,"s":"LONG SHORT SRI"},{"t":2014.476,"v":1.6,"s":"LONG SHORT SRI"},{"t":2014.499,"v":4.0,"s":"LONG SHORT SRI"},{"t":2014.519,"v":1.6,"s":"LONG SHORT SRI"},{"t":2014.534,"v":-0.5,"s":"LONG SHORT SRI"},{"t":2014.549,"v":2.2,"s":"LONG SHORT SRI"},{"t":2014.569,"v":2.5,"s":"LONG SHORT SRI"},{"t":2014.587,"v":1.6,"s":"LONG SHORT SRI"},{"t":2014.607,"v":0.8,"s":"LONG SHORT SRI"},{"t":2014.627,"v":3.3,"s":"LONG SHORT SRI"},{"t":2014.651,"v":6.0,"s":"LONG SHORT SRI"},{"t":2014.674,"v":5.4,"s":"LONG SHORT SRI"},{"t":2014.695,"v":6.5,"s":"LONG SHORT SRI"},{"t":2014.715,"v":5.4,"s":"LONG SHORT SRI"},{"t":2014.738,"v":7.1,"s":"LONG SHORT SRI"},{"t":2014.762,"v":4.9,"s":"LONG SHORT SRI"},{"t":2014.782,"v":1.6,"s":"LONG SHORT SRI"},{"t":2014.803,"v":4.9,"s":"LONG SHORT SRI"},{"t":2014.826,"v":8.7,"s":"LONG SHORT SRI"},{"t":2014.855,"v":9.2,"s":"LONG SHORT SRI"},{"t":2014.884,"v":9.0,"s":"LONG SHORT SRI"},{"t":2014.914,"v":10.1,"s":"LONG SHORT SRI"},
      {"t":2014.957,"v":11,"s":"LONG SHORT SRI"},{"t":2015.001,"v":9,"s":"LONG SHORT SRI"},{"t":2015.045,"v":13,"s":"LONG SHORT SRI"},{"t":2015.089,"v":14,"s":"LONG SHORT SRI"},{"t":2015.133,"v":12,"s":"LONG SHORT SRI"},{"t":2015.176,"v":16,"s":"LONG SHORT SRI"},{"t":2015.220,"v":18,"s":"LONG SHORT SRI"},{"t":2015.264,"v":19,"s":"LONG SHORT SRI"},{"t":2015.308,"v":17,"s":"LONG SHORT SRI"},{"t":2015.352,"v":20,"s":"LONG SHORT SRI"},{"t":2015.395,"v":21,"s":"LONG SHORT SRI"},{"t":2015.439,"v":19,"s":"LONG SHORT SRI"},{"t":2015.483,"v":21,"s":"LONG SHORT SRI"},{"t":2015.527,"v":22.5,"s":"LONG SHORT SRI"},{"t":2015.571,"v":20,"s":"LONG SHORT SRI"},{"t":2015.597,"v":18,"s":"LONG SHORT SRI"},{"t":2015.632,"v":14,"s":"LONG SHORT SRI"},{"t":2015.667,"v":12,"s":"LONG SHORT SRI"},{"t":2015.702,"v":5,"s":"LONG SHORT SRI"},{"t":2015.720,"v":9,"s":"LONG SHORT SRI"},{"t":2015.746,"v":3,"s":"LONG SHORT SRI"},{"t":2015.772,"v":8,"s":"LONG SHORT SRI"},{"t":2015.807,"v":11,"s":"LONG SHORT SRI"},{"t":2015.842,"v":8,"s":"LONG SHORT SRI"},{"t":2015.877,"v":10,"s":"LONG SHORT SRI"},{"t":2015.921,"v":9,"s":"LONG SHORT SRI"},{"t":2015.965,"v":10,"s":"LONG SHORT SRI"},{"t":2015.991,"v":9,"s":"LONG SHORT SRI"},{"t":2016.017,"v":3,"s":"LONG SHORT SRI"},{"t":2016.052,"v":-2,"s":"LONG SHORT SRI"},{"t":2016.087,"v":-12,"s":"LONG SHORT SRI"},{"t":2016.122,"v":-6,"s":"LONG SHORT SRI"},{"t":2016.158,"v":-9,"s":"LONG SHORT SRI"},{"t":2016.193,"v":-3,"s":"LONG SHORT SRI"},{"t":2016.228,"v":-5,"s":"LONG SHORT SRI"},{"t":2016.263,"v":-2,"s":"LONG SHORT SRI"},{"t":2016.298,"v":0,"s":"LONG SHORT SRI"},{"t":2016.333,"v":-3,"s":"LONG SHORT SRI"},{"t":2016.368,"v":1,"s":"LONG SHORT SRI"},{"t":2016.403,"v":-2,"s":"LONG SHORT SRI"},{"t":2016.447,"v":2,"s":"LONG SHORT SRI"},{"t":2016.490,"v":4,"s":"LONG SHORT SRI"},{"t":2016.534,"v":3,"s":"LONG SHORT SRI"},{"t":2016.578,"v":3,"s":"LONG SHORT SRI"},{"t":2016.622,"v":1,"s":"LONG SHORT SRI"},{"t":2016.666,"v":3,"s":"LONG SHORT SRI"},{"t":2016.709,"v":1,"s":"LONG SHORT SRI"},{"t":2016.753,"v":3,"s":"LONG SHORT SRI"},{"t":2016.797,"v":-1,"s":"LONG SHORT SRI"},{"t":2016.841,"v":-8,"s":"LONG SHORT SRI"},{"t":2016.885,"v":2,"s":"LONG SHORT SRI"},{"t":2016.928,"v":-1,"s":"LONG SHORT SRI"},{"t":2016.972,"v":0,"s":"LONG SHORT SRI"},
      {"t":2017.016,"v":1.1,"s":"LONG SHORT SRI"},{"t":2017.040,"v":0.0,"s":"LONG SHORT SRI"},{"t":2017.060,"v":-2.5,"s":"LONG SHORT SRI"},{"t":2017.080,"v":-0.5,"s":"LONG SHORT SRI"},{"t":2017.104,"v":1.1,"s":"LONG SHORT SRI"},{"t":2017.127,"v":3.3,"s":"LONG SHORT SRI"},{"t":2017.148,"v":4.9,"s":"LONG SHORT SRI"},{"t":2017.168,"v":5.1,"s":"LONG SHORT SRI"},{"t":2017.191,"v":4.6,"s":"LONG SHORT SRI"},{"t":2017.206,"v":5.4,"s":"LONG SHORT SRI"},{"t":2017.226,"v":2.7,"s":"LONG SHORT SRI"},{"t":2017.250,"v":2.9,"s":"LONG SHORT SRI"},{"t":2017.273,"v":2.2,"s":"LONG SHORT SRI"},{"t":2017.294,"v":2.7,"s":"LONG SHORT SRI"},{"t":2017.323,"v":4.9,"s":"LONG SHORT SRI"},{"t":2017.343,"v":3.8,"s":"LONG SHORT SRI"},{"t":2017.367,"v":4.0,"s":"LONG SHORT SRI"},{"t":2017.396,"v":4.4,"s":"LONG SHORT SRI"},{"t":2017.425,"v":4.9,"s":"LONG SHORT SRI"},{"t":2017.454,"v":4.7,"s":"LONG SHORT SRI"},{"t":2017.478,"v":6.2,"s":"LONG SHORT SRI"},{"t":2017.498,"v":6.5,"s":"LONG SHORT SRI"},{"t":2017.527,"v":6.0,"s":"LONG SHORT SRI"},{"t":2017.556,"v":7.1,"s":"LONG SHORT SRI"},{"t":2017.586,"v":6.0,"s":"LONG SHORT SRI"},{"t":2017.615,"v":5.1,"s":"LONG SHORT SRI"},{"t":2017.644,"v":5.8,"s":"LONG SHORT SRI"},{"t":2017.673,"v":7.3,"s":"LONG SHORT SRI"},{"t":2017.717,"v":7.3,"s":"LONG SHORT SRI"},{"t":2017.761,"v":7.6,"s":"LONG SHORT SRI"},{"t":2017.805,"v":7.3,"s":"LONG SHORT SRI"},{"t":2017.848,"v":7.6,"s":"LONG SHORT SRI"},{"t":2017.892,"v":7.1,"s":"LONG SHORT SRI"},{"t":2017.936,"v":7.3,"s":"LONG SHORT SRI"},{"t":2017.980,"v":7.1,"s":"LONG SHORT SRI"},{"t":2018.024,"v":7.6,"s":"LONG SHORT SRI"},{"t":2018.067,"v":8.2,"s":"LONG SHORT SRI"},{"t":2018.111,"v":8.0,"s":"LONG SHORT SRI"},{"t":2018.155,"v":8.4,"s":"LONG SHORT SRI"},{"t":2018.190,"v":9.2,"s":"LONG SHORT SRI"},{"t":2018.213,"v":9.4,"s":"LONG SHORT SRI"},{"t":2018.237,"v":10.6,"s":"LONG SHORT SRI"},{"t":2018.266,"v":10.1,"s":"LONG SHORT SRI"},{"t":2018.301,"v":10.3,"s":"LONG SHORT SRI"},{"t":2018.324,"v":10.9,"s":"LONG SHORT SRI"},{"t":2018.345,"v":11.6,"s":"LONG SHORT SRI"},{"t":2018.365,"v":10.9,"s":"LONG SHORT SRI"},{"t":2018.389,"v":10.6,"s":"LONG SHORT SRI"},{"t":2018.418,"v":10.9,"s":"LONG SHORT SRI"},{"t":2018.447,"v":9.8,"s":"LONG SHORT SRI"},{"t":2018.476,"v":9.0,"s":"LONG SHORT SRI"},{"t":2018.505,"v":7.9,"s":"LONG SHORT SRI"},{"t":2018.520,"v":5.8,"s":"LONG SHORT SRI"},{"t":2018.549,"v":5.4,"s":"LONG SHORT SRI"},{"t":2018.578,"v":5.8,"s":"LONG SHORT SRI"},{"t":2018.608,"v":4.9,"s":"LONG SHORT SRI"},{"t":2018.637,"v":4.4,"s":"LONG SHORT SRI"},{"t":2018.681,"v":4.6,"s":"LONG SHORT SRI"},{"t":2018.724,"v":4.9,"s":"LONG SHORT SRI"},{"t":2018.768,"v":5.1,"s":"LONG SHORT SRI"},{"t":2018.797,"v":6.2,"s":"LONG SHORT SRI"},{"t":2018.821,"v":5.4,"s":"LONG SHORT SRI"},{"t":2018.850,"v":6.5,"s":"LONG SHORT SRI"},{"t":2018.870,"v":4.9,"s":"LONG SHORT SRI"},{"t":2018.900,"v":5.1,"s":"LONG SHORT SRI"},{"t":2018.929,"v":4.0,"s":"LONG SHORT SRI"},{"t":2018.958,"v":5.8,"s":"LONG SHORT SRI"},{"t":2018.978,"v":9.2,"s":"LONG SHORT SRI"},{"t":2019.002,"v":7.9,"s":"LONG SHORT SRI"},{"t":2019.031,"v":7.3,"s":"LONG SHORT SRI"},{"t":2019.060,"v":7.1,"s":"LONG SHORT SRI"},{"t":2019.089,"v":6.5,"s":"LONG SHORT SRI"},{"t":2019.119,"v":5.8,"s":"LONG SHORT SRI"},{"t":2019.142,"v":6.2,"s":"LONG SHORT SRI"},{"t":2019.162,"v":4.7,"s":"LONG SHORT SRI"},{"t":2019.183,"v":5.8,"s":"LONG SHORT SRI"},{"t":2019.206,"v":6.9,"s":"LONG SHORT SRI"},{"t":2019.235,"v":6.3,"s":"LONG SHORT SRI"},{"t":2019.259,"v":6.5,"s":"LONG SHORT SRI"},{"t":2019.279,"v":6.3,"s":"LONG SHORT SRI"},{"t":2019.300,"v":7.9,"s":"LONG SHORT SRI"},{"t":2019.323,"v":7.6,"s":"LONG SHORT SRI"},
      {"t":2013.089,"v":0.8,"s":"LONG SHORT VICE"},{"t":2013.109,"v":1.4,"s":"LONG SHORT VICE"},{"t":2013.132,"v":2.2,"s":"LONG SHORT VICE"},{"t":2013.147,"v":0.8,"s":"LONG SHORT VICE"},{"t":2013.167,"v":0.3,"s":"LONG SHORT VICE"},{"t":2013.191,"v":0.8,"s":"LONG SHORT VICE"},{"t":2013.220,"v":0.3,"s":"LONG SHORT VICE"},{"t":2013.249,"v":0.0,"s":"LONG SHORT VICE"},{"t":2013.278,"v":-1.1,"s":"LONG SHORT VICE"},{"t":2013.302,"v":-1.6,"s":"LONG SHORT VICE"},{"t":2013.322,"v":-3.3,"s":"LONG SHORT VICE"},{"t":2013.351,"v":-4.9,"s":"LONG SHORT VICE"},{"t":2013.366,"v":-6.0,"s":"LONG SHORT VICE"},{"t":2013.389,"v":-5.5,"s":"LONG SHORT VICE"},{"t":2013.410,"v":-3.6,"s":"LONG SHORT VICE"},{"t":2013.439,"v":-1.6,"s":"LONG SHORT VICE"},{"t":2013.459,"v":-0.3,"s":"LONG SHORT VICE"},{"t":2013.477,"v":2.5,"s":"LONG SHORT VICE"},{"t":2013.497,"v":0.5,"s":"LONG SHORT VICE"},{"t":2013.512,"v":-1.6,"s":"LONG SHORT VICE"},{"t":2013.541,"v":-3.8,"s":"LONG SHORT VICE"},{"t":2013.570,"v":-4.4,"s":"LONG SHORT VICE"},{"t":2013.600,"v":-4.7,"s":"LONG SHORT VICE"},{"t":2013.629,"v":-3.8,"s":"LONG SHORT VICE"},{"t":2013.643,"v":-2.5,"s":"LONG SHORT VICE"},{"t":2013.664,"v":-4.4,"s":"LONG SHORT VICE"},{"t":2013.687,"v":-6.0,"s":"LONG SHORT VICE"},{"t":2013.716,"v":-6.9,"s":"LONG SHORT VICE"},{"t":2013.746,"v":-6.5,"s":"LONG SHORT VICE"},{"t":2013.789,"v":-7.1,"s":"LONG SHORT VICE"},{"t":2013.833,"v":-6.9,"s":"LONG SHORT VICE"},{"t":2013.862,"v":-6.2,"s":"LONG SHORT VICE"},{"t":2013.906,"v":-5.8,"s":"LONG SHORT VICE"},{"t":2013.950,"v":-4.7,"s":"LONG SHORT VICE"},{"t":2013.985,"v":-4.4,"s":"LONG SHORT VICE"},{"t":2014.023,"v":-4.0,"s":"LONG SHORT VICE"},{"t":2014.067,"v":-3.8,"s":"LONG SHORT VICE"},{"t":2014.096,"v":-3.3,"s":"LONG SHORT VICE"},{"t":2014.131,"v":-3.3,"s":"LONG SHORT VICE"},{"t":2014.169,"v":-2.7,"s":"LONG SHORT VICE"},{"t":2014.198,"v":-2.2,"s":"LONG SHORT VICE"},{"t":2014.227,"v":-3.8,"s":"LONG SHORT VICE"},{"t":2014.257,"v":-5.4,"s":"LONG SHORT VICE"},{"t":2014.286,"v":-6.2,"s":"LONG SHORT VICE"},{"t":2014.315,"v":-6.9,"s":"LONG SHORT VICE"},{"t":2014.359,"v":-7.3,"s":"LONG SHORT VICE"},{"t":2014.403,"v":-8.2,"s":"LONG SHORT VICE"},{"t":2014.446,"v":-8.7,"s":"LONG SHORT VICE"},{"t":2014.490,"v":-9.2,"s":"LONG SHORT VICE"},{"t":2014.534,"v":-9.8,"s":"LONG SHORT VICE"},{"t":2014.563,"v":-10.9,"s":"LONG SHORT VICE"},{"t":2014.598,"v":-10.3,"s":"LONG SHORT VICE"},{"t":2014.636,"v":-11.6,"s":"LONG SHORT VICE"},{"t":2014.665,"v":-12.3,"s":"LONG SHORT VICE"},{"t":2014.695,"v":-10.9,"s":"LONG SHORT VICE"},{"t":2014.724,"v":-9.8,"s":"LONG SHORT VICE"},{"t":2014.753,"v":-8.7,"s":"LONG SHORT VICE"},{"t":2014.782,"v":-6.5,"s":"LONG SHORT VICE"},{"t":2014.811,"v":-7.6,"s":"LONG SHORT VICE"},{"t":2014.841,"v":-8.7,"s":"LONG SHORT VICE"},{"t":2014.870,"v":-9.2,"s":"LONG SHORT VICE"},{"t":2014.908,"v":-9.8,"s":"LONG SHORT VICE"},
      {"t":2015.001,"v":-8,"s":"LONG SHORT VICE"},{"t":2015.089,"v":-11,"s":"LONG SHORT VICE"},{"t":2015.176,"v":-9,"s":"LONG SHORT VICE"},{"t":2015.264,"v":-12,"s":"LONG SHORT VICE"},{"t":2015.352,"v":-9,"s":"LONG SHORT VICE"},{"t":2015.439,"v":-11,"s":"LONG SHORT VICE"},{"t":2015.527,"v":-8,"s":"LONG SHORT VICE"},{"t":2015.614,"v":-9,"s":"LONG SHORT VICE"},{"t":2015.658,"v":-7,"s":"LONG SHORT VICE"},{"t":2015.702,"v":-8,"s":"LONG SHORT VICE"},{"t":2015.746,"v":-5,"s":"LONG SHORT VICE"},{"t":2015.790,"v":-6,"s":"LONG SHORT VICE"},{"t":2015.834,"v":-5,"s":"LONG SHORT VICE"},{"t":2015.877,"v":-7,"s":"LONG SHORT VICE"},{"t":2015.921,"v":-4,"s":"LONG SHORT VICE"},{"t":2015.965,"v":-2,"s":"LONG SHORT VICE"},{"t":2016.009,"v":-6,"s":"LONG SHORT VICE"},{"t":2016.052,"v":3,"s":"LONG SHORT VICE"},{"t":2016.079,"v":4,"s":"LONG SHORT VICE"},{"t":2016.105,"v":0,"s":"LONG SHORT VICE"},{"t":2016.140,"v":-3,"s":"LONG SHORT VICE"},{"t":2016.184,"v":-4,"s":"LONG SHORT VICE"},{"t":2016.228,"v":-2,"s":"LONG SHORT VICE"},{"t":2016.271,"v":-5,"s":"LONG SHORT VICE"},{"t":2016.315,"v":-4,"s":"LONG SHORT VICE"},{"t":2016.359,"v":-6,"s":"LONG SHORT VICE"},{"t":2016.403,"v":-8,"s":"LONG SHORT VICE"},{"t":2016.447,"v":-9,"s":"LONG SHORT VICE"},{"t":2016.490,"v":-9,"s":"LONG SHORT VICE"},{"t":2016.534,"v":-11,"s":"LONG SHORT VICE"},{"t":2016.578,"v":-11,"s":"LONG SHORT VICE"},{"t":2016.622,"v":-12,"s":"LONG SHORT VICE"},{"t":2016.666,"v":-13,"s":"LONG SHORT VICE"},{"t":2016.709,"v":-14,"s":"LONG SHORT VICE"},{"t":2016.753,"v":-14,"s":"LONG SHORT VICE"},{"t":2016.797,"v":-13,"s":"LONG SHORT VICE"},{"t":2016.841,"v":-12,"s":"LONG SHORT VICE"},{"t":2016.885,"v":-11,"s":"LONG SHORT VICE"},{"t":2016.928,"v":-10,"s":"LONG SHORT VICE"},{"t":2016.972,"v":-11,"s":"LONG SHORT VICE"},
      {"t":2017.016,"v":-11.2,"s":"LONG SHORT VICE"},{"t":2017.045,"v":-12.0,"s":"LONG SHORT VICE"},{"t":2017.075,"v":-12.5,"s":"LONG SHORT VICE"},{"t":2017.104,"v":-13.1,"s":"LONG SHORT VICE"},{"t":2017.133,"v":-13.4,"s":"LONG SHORT VICE"},{"t":2017.162,"v":-13.6,"s":"LONG SHORT VICE"},{"t":2017.186,"v":-13.1,"s":"LONG SHORT VICE"},{"t":2017.206,"v":-14.7,"s":"LONG SHORT VICE"},{"t":2017.235,"v":-15.6,"s":"LONG SHORT VICE"},{"t":2017.264,"v":-15.8,"s":"LONG SHORT VICE"},{"t":2017.294,"v":-16.6,"s":"LONG SHORT VICE"},{"t":2017.323,"v":-17.7,"s":"LONG SHORT VICE"},{"t":2017.352,"v":-18.0,"s":"LONG SHORT VICE"},{"t":2017.381,"v":-17.4,"s":"LONG SHORT VICE"},{"t":2017.410,"v":-19.0,"s":"LONG SHORT VICE"},{"t":2017.440,"v":-20.7,"s":"LONG SHORT VICE"},{"t":2017.469,"v":-20.7,"s":"LONG SHORT VICE"},{"t":2017.498,"v":-19.9,"s":"LONG SHORT VICE"},{"t":2017.527,"v":-20.1,"s":"LONG SHORT VICE"},{"t":2017.556,"v":-21.8,"s":"LONG SHORT VICE"},{"t":2017.586,"v":-22.8,"s":"LONG SHORT VICE"},{"t":2017.615,"v":-22.1,"s":"LONG SHORT VICE"},{"t":2017.635,"v":-21.8,"s":"LONG SHORT VICE"},{"t":2017.664,"v":-23.4,"s":"LONG SHORT VICE"},{"t":2017.694,"v":-24.5,"s":"LONG SHORT VICE"},{"t":2017.723,"v":-25.4,"s":"LONG SHORT VICE"},{"t":2017.752,"v":-26.1,"s":"LONG SHORT VICE"},{"t":2017.781,"v":-26.7,"s":"LONG SHORT VICE"},{"t":2017.810,"v":-26.5,"s":"LONG SHORT VICE"},{"t":2017.840,"v":-26.1,"s":"LONG SHORT VICE"},{"t":2017.869,"v":-25.8,"s":"LONG SHORT VICE"},{"t":2017.898,"v":-27.5,"s":"LONG SHORT VICE"},{"t":2017.927,"v":-28.6,"s":"LONG SHORT VICE"},{"t":2017.956,"v":-29.4,"s":"LONG SHORT VICE"},{"t":2017.986,"v":-30.5,"s":"LONG SHORT VICE"},{"t":2018.009,"v":-31.0,"s":"LONG SHORT VICE"},{"t":2018.032,"v":-33.7,"s":"LONG SHORT VICE"},{"t":2018.053,"v":-35.4,"s":"LONG SHORT VICE"},{"t":2018.073,"v":-38.1,"s":"LONG SHORT VICE"},{"t":2018.091,"v":-34.3,"s":"LONG SHORT VICE"},{"t":2018.111,"v":-29.4,"s":"LONG SHORT VICE"},{"t":2018.126,"v":-32.1,"s":"LONG SHORT VICE"},{"t":2018.140,"v":-31.0,"s":"LONG SHORT VICE"},{"t":2018.161,"v":-34.5,"s":"LONG SHORT VICE"},{"t":2018.178,"v":-32.1,"s":"LONG SHORT VICE"},{"t":2018.199,"v":-34.3,"s":"LONG SHORT VICE"},{"t":2018.219,"v":-31.6,"s":"LONG SHORT VICE"},{"t":2018.243,"v":-29.9,"s":"LONG SHORT VICE"},{"t":2018.266,"v":-31.0,"s":"LONG SHORT VICE"},{"t":2018.286,"v":-32.1,"s":"LONG SHORT VICE"},{"t":2018.316,"v":-31.6,"s":"LONG SHORT VICE"},{"t":2018.345,"v":-32.6,"s":"LONG SHORT VICE"},{"t":2018.365,"v":-33.7,"s":"LONG SHORT VICE"},{"t":2018.394,"v":-33.2,"s":"LONG SHORT VICE"},{"t":2018.418,"v":-34.5,"s":"LONG SHORT VICE"},{"t":2018.447,"v":-35.4,"s":"LONG SHORT VICE"},{"t":2018.476,"v":-33.2,"s":"LONG SHORT VICE"},{"t":2018.500,"v":-31.6,"s":"LONG SHORT VICE"},{"t":2018.520,"v":-32.1,"s":"LONG SHORT VICE"},{"t":2018.549,"v":-33.2,"s":"LONG SHORT VICE"},{"t":2018.578,"v":-34.5,"s":"LONG SHORT VICE"},{"t":2018.599,"v":-32.6,"s":"LONG SHORT VICE"},{"t":2018.622,"v":-31.0,"s":"LONG SHORT VICE"},{"t":2018.637,"v":-33.0,"s":"LONG SHORT VICE"},{"t":2018.657,"v":-34.5,"s":"LONG SHORT VICE"},{"t":2018.686,"v":-33.7,"s":"LONG SHORT VICE"},{"t":2018.710,"v":-32.1,"s":"LONG SHORT VICE"},{"t":2018.733,"v":-33.7,"s":"LONG SHORT VICE"},{"t":2018.753,"v":-31.0,"s":"LONG SHORT VICE"},{"t":2018.774,"v":-27.2,"s":"LONG SHORT VICE"},{"t":2018.797,"v":-25.0,"s":"LONG SHORT VICE"},{"t":2018.821,"v":-23.4,"s":"LONG SHORT VICE"},{"t":2018.841,"v":-22.3,"s":"LONG SHORT VICE"},{"t":2018.862,"v":-26.7,"s":"LONG SHORT VICE"},{"t":2018.879,"v":-25.0,"s":"LONG SHORT VICE"},{"t":2018.900,"v":-24.5,"s":"LONG SHORT VICE"},{"t":2018.920,"v":-27.2,"s":"LONG SHORT VICE"},{"t":2018.943,"v":-24.5,"s":"LONG SHORT VICE"},{"t":2018.958,"v":-25.6,"s":"LONG SHORT VICE"},{"t":2018.978,"v":-15.6,"s":"LONG SHORT VICE"},{"t":2018.996,"v":-18.0,"s":"LONG SHORT VICE"},{"t":2019.016,"v":-21.2,"s":"LONG SHORT VICE"},{"t":2019.037,"v":-25.0,"s":"LONG SHORT VICE"},{"t":2019.060,"v":-26.1,"s":"LONG SHORT VICE"},{"t":2019.089,"v":-27.7,"s":"LONG SHORT VICE"},{"t":2019.119,"v":-29.4,"s":"LONG SHORT VICE"},{"t":2019.148,"v":-30.5,"s":"LONG SHORT VICE"},{"t":2019.177,"v":-29.4,"s":"LONG SHORT VICE"},{"t":2019.200,"v":-31.0,"s":"LONG SHORT VICE"},{"t":2019.221,"v":-31.6,"s":"LONG SHORT VICE"},{"t":2019.241,"v":-33.7,"s":"LONG SHORT VICE"},{"t":2019.265,"v":-34.8,"s":"LONG SHORT VICE"},{"t":2019.294,"v":-35.9,"s":"LONG SHORT VICE"},{"t":2019.323,"v":-35.9,"s":"LONG SHORT VICE"}
    ]
  },
  "vconcat": [
    {
      "width": 712,
      "height": 429,
      "data": {"name": "top"},
      "layer": [
        {"mark": {"type": "rule", "color": "#000", "strokeWidth": 1}, "encoding": {"y": {"datum": 0, "type": "quantitative"}}},
        {
          "mark": {"type": "line", "strokeWidth": 1.7},
          "encoding": {
            "x": {"field": "t", "type": "quantitative", "scale": {"domain": [2013.083, 2019.323], "nice": false, "zero": false},
              "axis": {"values": [2013.1667,2013.25,2013.3333,2013.4167,2013.5,2013.5833,2013.6667,2013.75,2013.8333,2013.9167,2014,2014.0833,2014.1667,2014.25,2014.3333,2014.4167,2014.5,2014.5833,2014.6667,2014.75,2014.8333,2014.9167,2015,2015.0833,2015.1667,2015.25,2015.3333,2015.4167,2015.5,2015.5833,2015.6667,2015.75,2015.8333,2015.9167,2016,2016.0833,2016.1667,2016.25,2016.3333,2016.4167,2016.5,2016.5833,2016.6667,2016.75,2016.8333,2016.9167,2017,2017.0833,2017.1667,2017.25,2017.3333,2017.4167,2017.5,2017.5833,2017.6667,2017.75,2017.8333,2017.9167,2018,2018.0833,2018.1667,2018.25,2018.3333,2018.4167,2018.5,2018.5833,2018.6667,2018.75,2018.8333,2018.9167,2019,2019.0833,2019.1667,2019.224,2019.25],
                "tickSize": {"condition": {"test": "abs(datum.value - round(datum.value)) < 0.01", "value": 10}, "value": 5},
                "tickOpacity": {"condition": {"test": "abs(datum.value - 2019.224) < 0.001", "value": 0}, "value": 1},
                "labelExpr": "abs(datum.value - 2019.224) < 0.001 ? '19' : (abs(datum.value - floor(datum.value) - 0.5) < 0.01 ? '' + (floor(datum.value) - 2000) : '')",
                "labelOverlap": false, "labelFlush": false, "labelBound": false, "labelPadding": 7}},
            "y": {"field": "v", "type": "quantitative", "scale": {"domain": [-40, 100], "nice": false, "zero": false},
              "axis": {"values": [-40, -20, 0, 20, 40, 60, 80, 100], "tickSize": 9, "labelPadding": 5, "labelExpr": "'' + datum.value"}},
            "color": {"field": "s", "type": "nominal", "scale": {"domain": ["LONG SRI", "LONG VICE"], "range": ["#0000ff", "#ff0000"]},
              "legend": {"legendX": 188, "legendY": 492}},
            "strokeDash": {"field": "s", "type": "nominal", "scale": {"domain": ["LONG SRI", "LONG VICE"], "range": [[1, 0], [7, 3]]},
              "legend": {"legendX": 188, "legendY": 492}}
          }
        }
      ]
    },
    {
      "width": 712,
      "height": 429,
      "data": {"name": "bottom"},
      "layer": [
        {"mark": {"type": "rule", "color": "#666", "strokeWidth": 1.5}, "encoding": {"y": {"datum": 0, "type": "quantitative"}}},
        {
          "mark": {"type": "line", "strokeWidth": 1.7},
          "encoding": {
            "x": {"field": "t", "type": "quantitative", "scale": {"domain": [2013.083, 2019.323], "nice": false, "zero": false},
              "axis": {"values": [2013.1667,2013.25,2013.3333,2013.4167,2013.5,2013.5833,2013.6667,2013.75,2013.8333,2013.9167,2014,2014.0833,2014.1667,2014.25,2014.3333,2014.4167,2014.5,2014.5833,2014.6667,2014.75,2014.8333,2014.9167,2015,2015.0833,2015.1667,2015.25,2015.3333,2015.4167,2015.5,2015.5833,2015.6667,2015.75,2015.8333,2015.9167,2016,2016.0833,2016.1667,2016.25,2016.3333,2016.4167,2016.5,2016.5833,2016.6667,2016.75,2016.8333,2016.9167,2017,2017.0833,2017.1667,2017.25,2017.3333,2017.4167,2017.5,2017.5833,2017.6667,2017.75,2017.8333,2017.9167,2018,2018.0833,2018.1667,2018.25,2018.3333,2018.4167,2018.5,2018.5833,2018.6667,2018.75,2018.8333,2018.9167,2019,2019.0833,2019.1667,2019.224,2019.25],
                "tickSize": {"condition": {"test": "abs(datum.value - round(datum.value)) < 0.01", "value": 10}, "value": 5},
                "tickOpacity": {"condition": {"test": "abs(datum.value - 2019.224) < 0.001", "value": 0}, "value": 1},
                "labelExpr": "abs(datum.value - 2019.224) < 0.001 ? '19' : (abs(datum.value - floor(datum.value) - 0.5) < 0.01 ? '' + (floor(datum.value) - 2000) : '')",
                "labelOverlap": false, "labelFlush": false, "labelBound": false, "labelPadding": 7}},
            "y": {"field": "v", "type": "quantitative", "scale": {"domain": [-40, 100], "nice": false, "zero": false},
              "axis": {"values": [-40, -20, 0, 20, 40, 60, 80, 100], "tickSize": 9, "labelPadding": 5, "labelExpr": "'' + datum.value"}},
            "color": {"field": "s", "type": "nominal", "scale": {"domain": ["LONG SHORT SRI", "LONG SHORT VICE"], "range": ["#0000ff", "#ff0000"]},
              "legend": {"legendX": 112, "legendY": 491}},
            "strokeDash": {"field": "s", "type": "nominal", "scale": {"domain": ["LONG SHORT SRI", "LONG SHORT VICE"], "range": [[1, 0], [7, 3]]},
              "legend": {"legendX": 112, "legendY": 491}}
          }
        }
      ]
    }
  ],
  "resolve": {"scale": {"color": "independent", "strokeDash": "independent"}}
}
